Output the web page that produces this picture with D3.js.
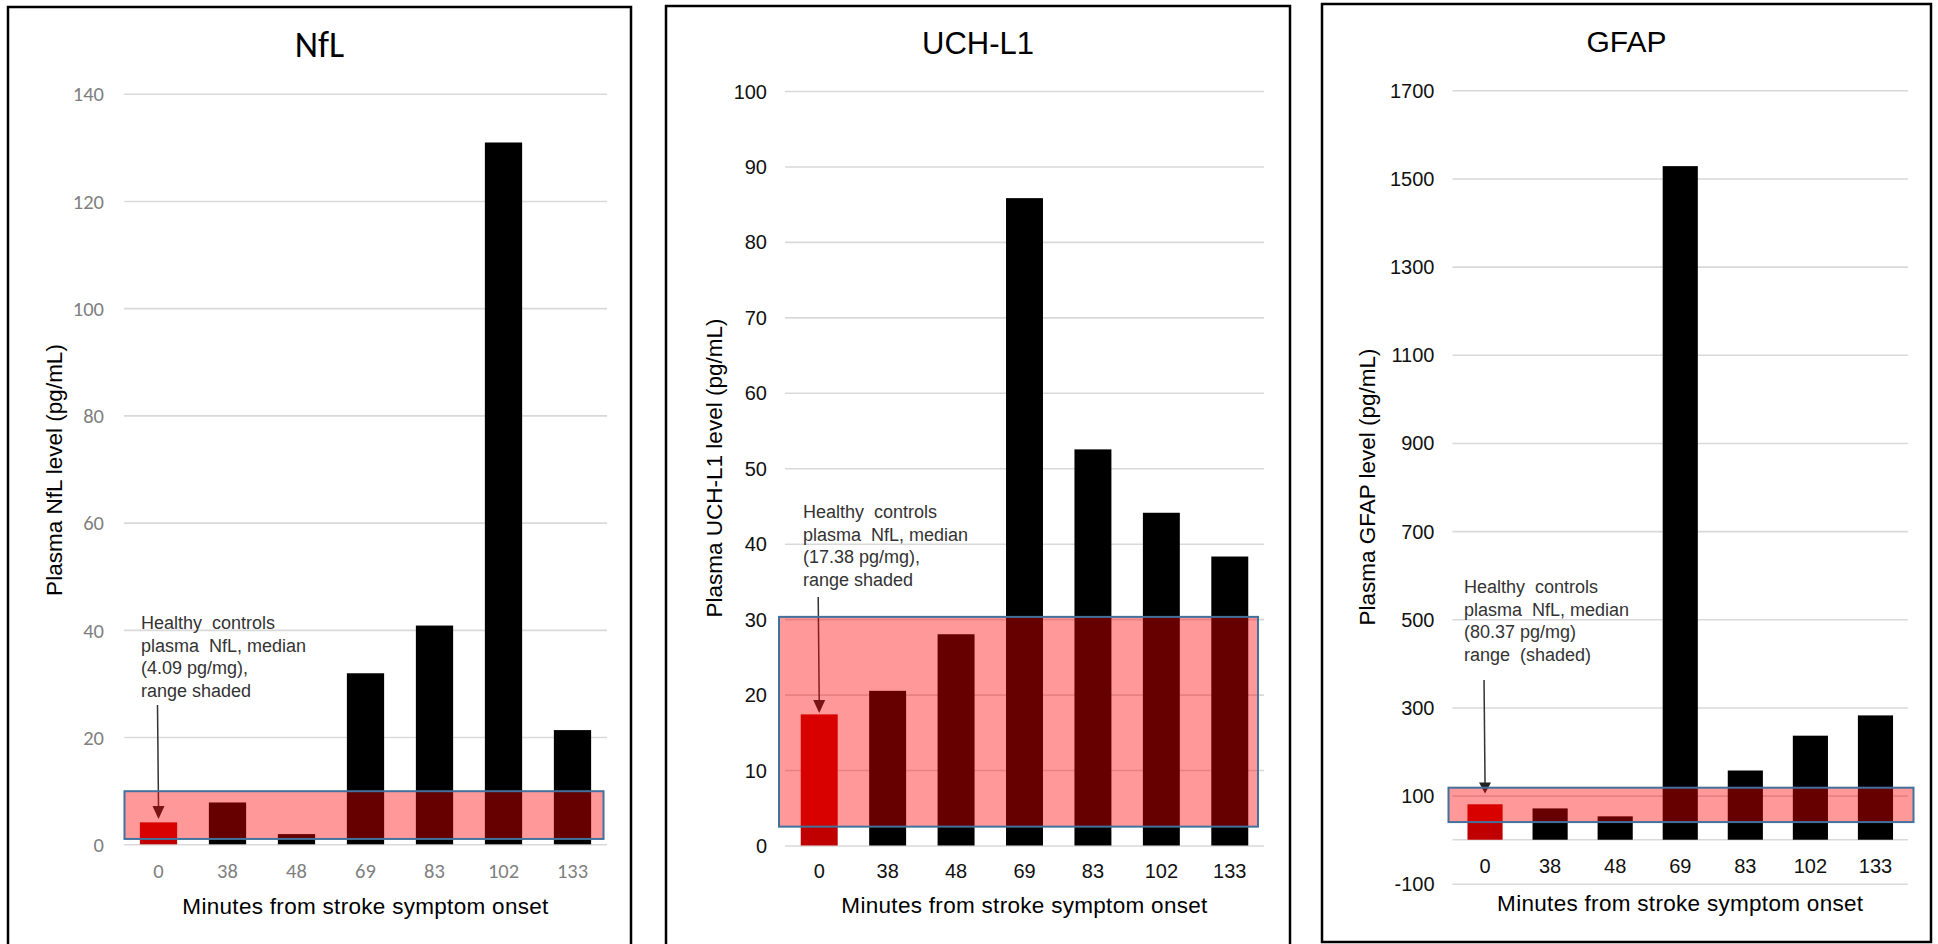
<!DOCTYPE html>
<html>
<head>
<meta charset="utf-8">
<script src="https://cdn.jsdelivr.net/npm/d3@7"></script>
<style>
  html, body { margin: 0; padding: 0; background: #fff; }
  svg { display: block; }
</style>
</head>
<body>
<svg id="chart" width="1938" height="944"></svg>
<script>
// ---------------- DATA ----------------
const categories = ["0", "38", "48", "69", "83", "102", "133"];

const nflValues   = [4.09, 7.8, 1.9, 31.9, 40.8, 130.9, 21.3];
const uchl1Values = [17.38, 20.5, 28.0, 85.8, 52.5, 44.1, 38.3];
const gfapValues  = [80.37, 71, 53, 1528, 157, 236, 282];

const nflTicks   = [0, 20, 40, 60, 80, 100, 120, 140];
const uchl1Ticks = [0, 10, 20, 30, 40, 50, 60, 70, 80, 90, 100];
const gfapTicks  = [-100, 100, 300, 500, 700, 900, 1100, 1300, 1500, 1700];

const nflControlRange   = [1.0, 9.9];
const uchl1ControlRange = [2.5, 30.3];
const gfapControlRange  = [40, 118];

const nflNote   = ["Healthy  controls", "plasma  NfL, median", "(4.09 pg/mg),", "range shaded"];
const uchl1Note = ["Healthy  controls", "plasma  NfL, median", "(17.38 pg/mg),", "range shaded"];
const gfapNote  = ["Healthy  controls", "plasma  NfL, median", "(80.37 pg/mg)", "range  (shaded)"];

const panelTitles = ["NfL", "UCH-L1", "GFAP"];
const yTitles = ["Plasma NfL level (pg/mL)", "Plasma UCH-L1 level (pg/mL)", "Plasma GFAP level (pg/mL)"];
const xTitle = "Minutes from stroke symptom onset";

// ---------------- LAYOUT / STYLE ----------------
const ARIAL = "'Liberation Sans', Arial, sans-serif";
const CALIBRI = "Carlito, Lato, 'Open Sans', sans-serif";

const panels = [
  {
    title: panelTitles[0], yTitle: yTitles[0], values: nflValues, ticks: nflTicks,
    range: nflControlRange, note: nflNote,
    frame: {x0: 8, y0: 7, x1: 631, y1: 980},
    px: [124, 607], domain: [0, 140], py: [844.3, 93.7],
    titleFont: CALIBRI, titleSize: 36, titleY: 57,
    tickFont: CALIBRI, tickSize: 20.5, tickColor: "#7f7f7f", tickRight: 104,
    xLabelY: 871, xTitleY: 906, yTitleX: 54, yTitleY: 470,
    noteX: 141, noteY: 622.7, arrowTop: 705, arrowTip: 819, headLen: 13,
    rectPad: [0.5, -3.5]
  },
  {
    title: panelTitles[1], yTitle: yTitles[1], values: uchl1Values, ticks: uchl1Ticks,
    range: uchl1ControlRange, note: uchl1Note,
    frame: {x0: 666, y0: 6, x1: 1290, y1: 980},
    px: [785, 1264], domain: [0, 100], py: [845.5, 91],
    titleFont: ARIAL, titleSize: 31, titleY: 54.3,
    tickFont: ARIAL, tickSize: 20, tickColor: "#111", tickRight: 767,
    xLabelY: 871, xTitleY: 905, yTitleX: 714, yTitleY: 468,
    noteX: 803, noteY: 511.7, arrowTop: 597, arrowTip: 713, headLen: 13,
    rectPad: [-6, -6]
  },
  {
    title: panelTitles[2], yTitle: yTitles[2], values: gfapValues, ticks: gfapTicks,
    range: gfapControlRange, note: gfapNote,
    frame: {x0: 1322, y0: 4, x1: 1931, y1: 942},
    px: [1452.5, 1908], domain: [-100, 1700], py: [883.8, 90.3],
    titleFont: ARIAL, titleSize: 30, titleY: 52.3,
    tickFont: ARIAL, tickSize: 20, tickColor: "#111", tickRight: 1434.5,
    xLabelY: 866, xTitleY: 903, yTitleX: 1367, yTitleY: 487,
    noteX: 1464, noteY: 587, arrowTop: 680, arrowTip: 793.5, headLen: 11,
    rectPad: [-4, 5.5]
  }
];

const svg = d3.select("#chart");
const plainFormat = d => String(d);

panels.forEach((p, i) => {
  const g = svg.append("g").attr("class", "panel-" + i);

  const x = d3.scaleBand().domain(categories).range(p.px)
    .paddingInner(0.46).paddingOuter(0.23);
  const y = d3.scaleLinear().domain(p.domain).range(p.py);

  // frame
  g.append("rect")
    .attr("x", p.frame.x0).attr("y", p.frame.y0)
    .attr("width", p.frame.x1 - p.frame.x0).attr("height", p.frame.y1 - p.frame.y0)
    .attr("fill", "#fff").attr("stroke", "#000").attr("stroke-width", 2.5);

  // gridlines
  const grid = g.append("g")
    .attr("transform", `translate(${p.px[0]},0)`)
    .call(d3.axisLeft(y).tickValues(p.ticks).tickSize(-(p.px[1] - p.px[0])).tickFormat(""));
  grid.select(".domain").remove();
  grid.selectAll("line").attr("stroke", "#d9d9d9").attr("stroke-width", 1.6);

  // zero axis line (if not already a tick)
  if (!p.ticks.includes(0)) {
    g.append("line")
      .attr("x1", p.px[0]).attr("x2", p.px[1])
      .attr("y1", y(0)).attr("y2", y(0))
      .attr("stroke", "#d9d9d9").attr("stroke-width", 1.6);
  }

  // y tick labels
  const yAxis = g.append("g")
    .attr("transform", `translate(${p.tickRight},0)`)
    .call(d3.axisLeft(y).tickValues(p.ticks).tickFormat(plainFormat).tickSize(0).tickPadding(0));
  yAxis.select(".domain").remove();
  yAxis.selectAll("text")
    .attr("font-family", p.tickFont).attr("font-size", p.tickSize)
    .attr("fill", p.tickColor).attr("dy", "0.35em");

  // bars
  g.append("g").selectAll("rect")
    .data(p.values)
    .join("rect")
    .attr("x", (d, j) => x(categories[j]))
    .attr("width", x.bandwidth())
    .attr("y", d => y(Math.max(0, d)))
    .attr("height", d => Math.abs(y(d) - y(0)))
    .attr("fill", (d, j) => j === 0 ? "#c00000" : "#000");

  // arrow (drawn under the shaded overlay)
  const ax = x(categories[0]) + x.bandwidth() / 2;
  g.append("line")
    .attr("x1", ax - 1).attr("y1", p.arrowTop)
    .attr("x2", ax).attr("y2", p.arrowTip - p.headLen + 1)
    .attr("stroke", "#333").attr("stroke-width", 1.5);
  g.append("path")
    .attr("d", `M${ax - 6},${p.arrowTip - p.headLen} L${ax + 6},${p.arrowTip - p.headLen} L${ax},${p.arrowTip} Z`)
    .attr("fill", "#222");

  // shaded control range
  g.append("rect")
    .attr("x", p.px[0] + p.rectPad[0])
    .attr("width", (p.px[1] + p.rectPad[1]) - (p.px[0] + p.rectPad[0]))
    .attr("y", y(p.range[1]))
    .attr("height", y(p.range[0]) - y(p.range[1]))
    .attr("fill", "#ff0000").attr("fill-opacity", 0.4)
    .attr("stroke", "#41719c").attr("stroke-width", 2);

  // x tick labels
  const xAxis = g.append("g")
    .attr("transform", `translate(0,${p.xLabelY})`)
    .call(d3.axisBottom(x).tickSize(0).tickPadding(0));
  xAxis.select(".domain").remove();
  xAxis.selectAll("text")
    .attr("y", 0).attr("dy", "0.35em")
    .attr("font-family", p.tickFont).attr("font-size", p.tickSize)
    .attr("fill", p.tickColor);

  // panel title
  g.append("text")
    .attr("x", (p.frame.x0 + p.frame.x1) / 2).attr("y", p.titleY)
    .attr("text-anchor", "middle")
    .attr("font-family", p.titleFont).attr("font-size", p.titleSize)
    .attr("fill", "#000")
    .text(p.title);

  // x axis title
  g.append("text")
    .attr("x", (p.px[0] + p.px[1]) / 2).attr("y", p.xTitleY)
    .attr("dy", "0.35em")
    .attr("text-anchor", "middle")
    .attr("font-family", ARIAL).attr("font-size", 22.5)
    .attr("letter-spacing", 0.3)
    .attr("fill", "#000")
    .text(xTitle);

  // y axis title
  g.append("text")
    .attr("transform", `translate(${p.yTitleX},${p.yTitleY}) rotate(-90)`)
    .attr("dy", "0.35em")
    .attr("text-anchor", "middle")
    .attr("font-family", ARIAL).attr("font-size", 22.5)
    .attr("fill", "#000")
    .text(p.yTitle);

  // annotation text
  const note = g.append("text")
    .attr("font-family", ARIAL).attr("font-size", 18)
    .attr("fill", "#333")
    .style("white-space", "pre");
  p.note.forEach((line, k) => {
    note.append("tspan")
      .attr("x", p.noteX)
      .attr("y", p.noteY + k * 22.5)
      .attr("dy", "0.35em")
      .text(line);
  });
});
</script>
</body>
</html>
